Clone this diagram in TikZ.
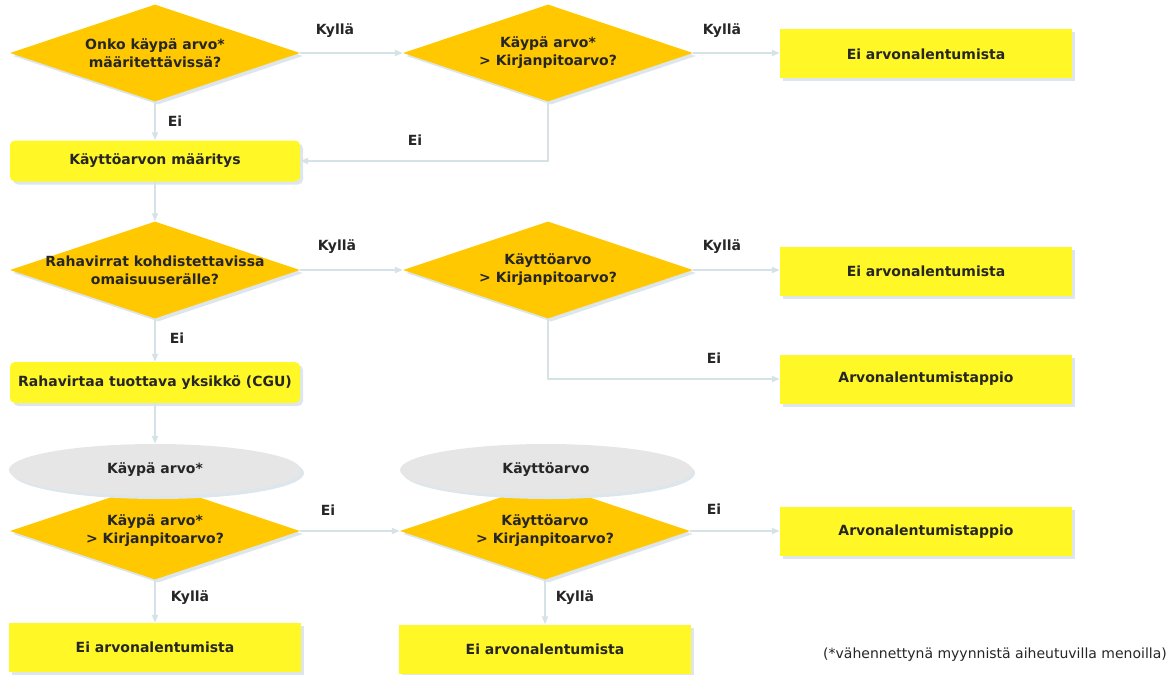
\documentclass[tikz,border=0pt]{standalone}
\usepackage{fontspec}
\setmainfont{DejaVu Sans}
\usetikzlibrary{shapes.geometric,shadows,arrows.meta}
\definecolor{diac}{HTML}{FFC800}
\definecolor{boxc}{HTML}{FFF826}
\definecolor{shad}{HTML}{DCE6EC}
\definecolor{ellc}{HTML}{E6E6E6}
\definecolor{conn}{HTML}{D5E2E8}
\definecolor{txtc}{HTML}{262626}
\begin{document}
\begin{tikzpicture}[x=1pt,y=-1pt,
  sh/.style={drop shadow={shadow xshift=3pt,shadow yshift=-3pt,fill=shad,opacity=1}},
  lab/.style={font=\bfseries\fontsize{14}{18}\selectfont, text=txtc, align=center},
  dec/.style={diamond, fill=diac, minimum width=290pt, minimum height=97pt, inner sep=0pt, sh},
  rbox/.style={rectangle, rounded corners=5pt, fill=boxc, minimum width=290pt, minimum height=41pt, inner sep=0pt, sh, lab},
  sbox/.style={rectangle, fill=boxc, minimum width=292pt, minimum height=49pt, inner sep=0pt, sh, lab},
  ell/.style={ellipse, fill=ellc, minimum width=292pt, minimum height=52pt, inner sep=0pt, sh, lab},
  cl/.style={draw=conn, line width=1.8pt, -{Triangle[length=8pt,width=6pt]}},
  el/.style={lab, inner sep=0pt}
]
\useasboundingbox (0,0) rectangle (1174,674);

% Row 1
\node[dec, label={[lab]center:{Onko käypä arvo*\\määritettävissä?}}] (d1) at (155,53) {};
\node[dec, label={[lab]center:{Käypä arvo*\\> Kirjanpitoarvo?}}] (d2) at (548,53) {};
\node[sbox] (b1) at (926,54) {Ei arvonalentumista};
\node[rbox] (k1) at (155,161) {Käyttöarvon määritys};

% Row 2
\node[dec, label={[lab]center:{Rahavirrat kohdistettavissa\\omaisuuserälle?}}] (d3) at (155,270) {};
\node[dec, label={[lab]center:{Käyttöarvo\\> Kirjanpitoarvo?}}] (d4) at (548,270) {};
\node[sbox] (b2) at (926,271) {Ei arvonalentumista};
\node[sbox] (a1) at (926,379) {Arvonalentumistappio};
\node[rbox] (c1) at (155,382.5) {Rahavirtaa tuottava yksikkö (CGU)};

% Row 3
\node[dec, label={[lab]center:{Käypä arvo*\\> Kirjanpitoarvo?}}] (d5) at (155,531) {};
\node[dec, label={[lab]center:{Käyttöarvo\\> Kirjanpitoarvo?}}] (d6) at (545,531) {};
\node[ell] (e1) at (155,470) {Käypä arvo*};
\node[ell] (e2) at (546,470) {Käyttöarvo};
\node[sbox] (a2) at (926,531.5) {Arvonalentumistappio};
\node[sbox] (b3) at (155,647.5) {Ei arvonalentumista};
\node[sbox] (b4) at (545,649) {Ei arvonalentumista};

\node[text=txtc, font=\fontsize{14}{16}\selectfont, inner sep=0pt] (fn) at (995,655) {(*vähennettynä myynnistä aiheutuvilla menoilla)};

% Connectors
\draw[cl] (d1.east) -- (d2.west);
\draw[cl] (d2.east) -- (d2.east -| b1.west);
\draw[cl] (d1.south) -- (k1.north);
\draw[cl] (d2.south) |- (k1.east);
\draw[cl] (k1.south) -- (d3.north);
\draw[cl] (d3.east) -- (d4.west);
\draw[cl] (d4.east) -- (d4.east -| b2.west);
\draw[cl] (d4.south) |- (a1.west);
\draw[cl] (d3.south) -- (c1.north);
\draw[cl] (c1.south) -- (e1.north);
\draw[cl] (d5.east) -- (d6.west);
\draw[cl] (d6.east) -- (d6.east -| a2.west);
\draw[cl] (d5.south) -- (b3.north);
\draw[cl] (d6.south) -- (b4.north);

% Edge labels
\node[el] (l1) at (335,31) {Kyllä};
\node[el] (l2) at (722,31) {Kyllä};
\node[el] (l3) at (175,121) {Ei};
\node[el] (l4) at (415,140) {Ei};
\node[el] (l5) at (337,247) {Kyllä};
\node[el] (l6) at (722,247) {Kyllä};
\node[el] (l7) at (177,338) {Ei};
\node[el] (l8) at (714,358) {Ei};
\node[el] (l9) at (328,510) {Ei};
\node[el] (l10) at (714,509) {Ei};
\node[el] (l11) at (190,598) {Kyllä};
\node[el] (l12) at (575,598) {Kyllä};
\end{tikzpicture}
\end{document}
